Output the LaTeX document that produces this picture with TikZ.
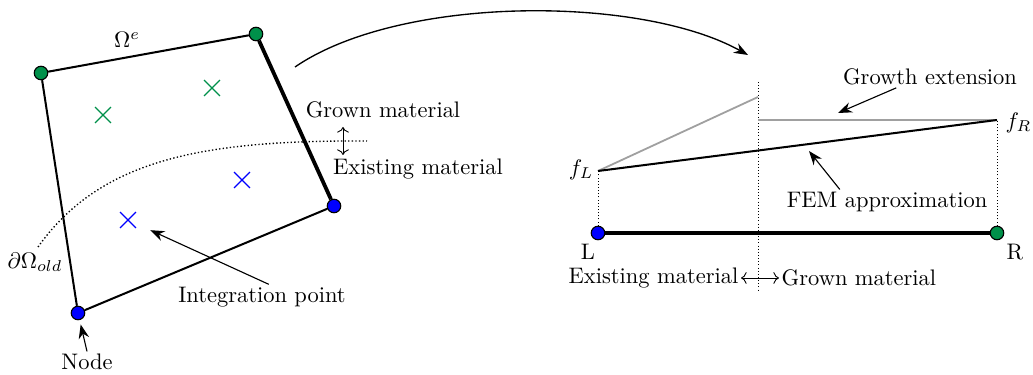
\documentclass[tikz,border=0pt]{standalone}
\usepackage{tikz}
\usetikzlibrary{arrows.meta,calc,positioning,shapes.misc}
\definecolor{ink}{HTML}{000000}
\definecolor{nodeblue}{HTML}{0000FF}
\definecolor{nodegreen}{HTML}{00904A}
\definecolor{extgray}{HTML}{A0A0A0}
\tikzset{
  gdot/.style={circle,draw=ink,fill=nodegreen,line width=0.5pt,inner sep=0pt,minimum size=6pt},
  bdot/.style={circle,draw=ink,fill=nodeblue,line width=0.5pt,inner sep=0pt,minimum size=6pt},
  edge/.style={line width=0.9pt,draw=ink},
  thickedge/.style={line width=1.7pt,draw=ink},
  lblarrow/.style={-{Stealth[length=2.2mm]},line width=0.5pt,draw=ink},
  txt/.style={font=\normalsize,inner sep=1pt}
}

\begin{document}
\begin{tikzpicture}[
    x=0.445pt,y=-0.445pt,
    gauss/.style={cross out,draw,line width=0.6pt,minimum size=6.5pt,inner sep=0pt},
    boundary/.style={densely dotted,line width=0.6pt,draw=ink},
    guide/.style={densely dotted,line width=0.4pt,draw=ink},
    ext/.style={line width=0.8pt,draw=extgray}
  ]
    \useasboundingbox (0,0) rectangle (1033,375);

    % element
    \node[gdot] (n1) at (41,73) {};
    \node[gdot] (n2) at (256,34) {};
    \node[bdot] (n3) at (334,206) {};
    \node[bdot] (n4) at (78,313) {};
    \draw[edge] (n1) -- (n2);
    \draw[thickedge] (n2) -- (n3);
    \draw[edge] (n3) -- (n4);
    \draw[edge] (n4) -- (n1);
    \node[txt] (omega) at (127,40) {$\Omega^e$};

    \node[gauss,draw=nodegreen] (g1) at (103,115) {};
    \node[gauss,draw=nodegreen] (g2) at (212,88) {};
    \node[gauss,draw=nodeblue] (g3) at (242,180) {};
    \node[gauss,draw=nodeblue] (g4) at (128,220) {};

    % old boundary
    \coordinate (bstart) at (38,247);
    \coordinate (bend) at (367,141);
    \draw[boundary] (bstart) .. controls (100,160) and (200,140) .. (bend);
    \node[txt] (dold) at (35,262) {$\partial\Omega_{old}$};

    \node[txt] (grown) at (383,110) {Grown material};
    \node[txt] (exist) at (418,169) {Existing material};
    \coordinate (ga) at (343,127);
    \coordinate (gb) at (343,155);
    \draw[<->,line width=0.4pt] (ga) -- (gb);

    \node[txt] (ip) at (262,297) {Integration point};
    \draw[lblarrow] ([xshift=3pt]ip.north) -- (g4) [shorten >=7pt];
    \node[txt] (nodelbl) at (87,362) {Node};
    \draw[lblarrow,shorten >=2pt] (nodelbl.north) -- (n4);

    % link to 1d sketch
    \coordinate (from) at (295,67);
    \coordinate (to) at (748,55);
    \draw[lblarrow,line width=0.6pt] (from) .. controls (400,-5) and (640,-5) .. (to);

    % 1d element
    \coordinate (fL) at (598,171);
    \coordinate (fR) at (997,120);
    \coordinate (etop) at (758,97);
    \coordinate (emid) at (758,120);
    \coordinate (itop) at (758,82);
    \coordinate (ibot) at (758,292);
    \node[bdot] (L) at (598,233) {};
    \node[gdot] (R) at (997,233) {};
    \draw[thickedge] (L) -- (R);
    \draw[guide] (L) -- (fL);
    \draw[guide] (R) -- (fR);
    \draw[guide] (itop) -- (ibot);
    \draw[ext] (fL) -- (etop);
    \draw[ext] (emid) -- (fR);
    \draw[edge] (fL) -- (fR);

    \node[txt,anchor=east] (fLlbl) at (596,170) {$f_L$};
    \node[txt,anchor=west] (fRlbl) at (1003,123) {$f_R$};
    \node[txt] (Llbl) at (588,252) {L};
    \node[txt] (Rlbl) at (1015,252) {R};

    \node[txt] (growth) at (930,77) {Growth extension};
    \coordinate (growtip) at (838,113);
    \draw[lblarrow] ([xshift=-15pt]growth.south) -- (growtip);
    \node[txt] (fem) at (887,202) {FEM approximation};
    \coordinate (femtip) at (809,151);
    \draw[lblarrow] ([xshift=-21pt]fem.north) -- (femtip);

    \node[txt,anchor=east] (exist2) at (741,278) {Existing material};
    \node[txt,anchor=west] (grown2) at (779,278) {Grown material};
    \draw[<->,line width=0.4pt] (exist2.east) -- (grown2.west);
\end{tikzpicture}
\end{document}
